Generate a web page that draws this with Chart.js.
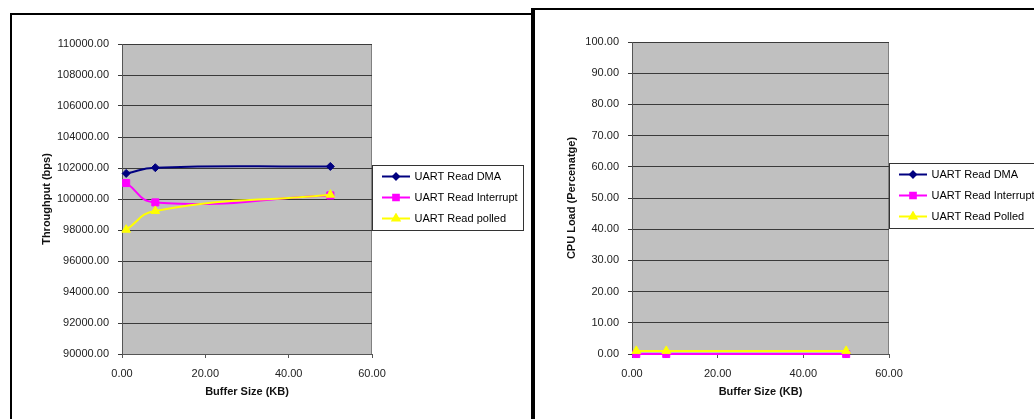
<!DOCTYPE html>
<html>
<head>
<meta charset="utf-8">
<title>UART Read throughput and CPU load</title>
<script src="https://cdn.jsdelivr.net/npm/chart.js@4.4.1/dist/chart.umd.min.js"></script>
<style>
  body { margin: 0; background: #fff; width: 1034px; height: 419px; overflow: hidden; position: relative; }
  .panel { position: absolute; border: 2px solid #000; box-sizing: border-box; }
  #panelLeft { left: 10px; top: 13px; width: 523px; height: 440px; }
  #panelRight { left: 531px; top: 8px; width: 540px; height: 440px; border-left-width: 4px; }
  canvas { position: absolute; top: 0; }
  #throughputChart { left: 0; }
  #loadChart { left: 535px; }
</style>
</head>
<body>
<div class="panel" id="panelLeft"></div>
<div class="panel" id="panelRight"></div>
<canvas id="throughputChart" width="533" height="419"></canvas>
<canvas id="loadChart" width="499" height="419"></canvas>
<script>
// buffer sizes in KB
const bufferSizes = [1, 8, 50];

// throughput in bps
const dmaThroughput = [101650, 102020, 102100];
const interruptThroughput = [101030, 99780, 100230];
const polledThroughput = [98020, 99230, 100280];

// CPU load in percent
const dmaLoad = [0, 0, 0];
const interruptLoad = [0, 0, 0];
const polledLoad = [1, 1, 1];

Chart.defaults.font.family = '"Liberation Sans", Arial, sans-serif';
Chart.defaults.font.size = 11;
Chart.defaults.animation = false;

const GRID = '#3a3a3a';

function pairs(xs, ys) {
  return xs.map((x, i) => ({ x: x, y: ys[i] }));
}

// small line + marker picture used as the legend symbol
function legendSwatch(ds) {
  const c = document.createElement('canvas');
  c.width = 28;
  c.height = 11;
  const g = c.getContext('2d');
  g.strokeStyle = ds.borderColor;
  g.lineWidth = ds.borderWidth;
  g.beginPath();
  g.moveTo(0, 5.5);
  g.lineTo(28, 5.5);
  g.stroke();
  g.fillStyle = ds.backgroundColor;
  g.strokeStyle = ds.borderColor;
  Chart.helpers.drawPoint(g, { pointStyle: ds.pointStyle, radius: ds.pointRadius - 1, borderWidth: 1, rotation: 0 }, 14, 5.5);
  return c;
}

// grey plot area, its frame, and the framed legend to the right of it
const plotFrame = {
  id: 'plotFrame',
  afterLayout(chart, args, opts) {
    const lg = chart.legend;
    const a = chart.chartArea;
    lg.left = a.right + 1;
    lg.right = lg.left + opts.legendWidth;
    lg.width = opts.legendWidth;
    lg.top = opts.legendTop - 4;
    lg.bottom = lg.top + 200;
    lg.height = 200;
  },
  beforeDraw(chart, args, opts) {
    const { ctx, chartArea: a } = chart;
    ctx.save();
    ctx.fillStyle = '#c0c0c0';
    ctx.fillRect(a.left, a.top, a.width, a.height);
    ctx.strokeStyle = '#808080';
    ctx.lineWidth = 1;
    ctx.strokeRect(Math.round(a.left) + 0.5, Math.round(a.top) + 0.5, Math.round(a.width) - 1, Math.round(a.height));
    const lx = Math.round(a.right) + 0.5;
    ctx.fillStyle = '#fff';
    ctx.fillRect(lx, opts.legendTop + 0.5, opts.legendWidth, opts.legendHeight);
    ctx.strokeStyle = '#333';
    ctx.strokeRect(lx, opts.legendTop + 0.5, opts.legendWidth, opts.legendHeight);
    ctx.restore();
  }
};

function series(label, data, color, style, radius, order) {
  return {
    label: label,
    data: data,
    borderColor: color,
    backgroundColor: color,
    borderWidth: 2,
    pointStyle: style,
    pointRadius: radius,
    pointBorderWidth: 1,
    tension: 0.5,
    clip: false,
    order: order
  };
}

function buildChart(canvasId, datasets, y, frame, padding, yWidth) {
  return new Chart(document.getElementById(canvasId), {
    type: 'line',
    data: { datasets: datasets },
    options: {
      responsive: false,
      devicePixelRatio: 1,
      layout: { padding: padding },
      plugins: {
        tooltip: { enabled: false },
        plotFrame: frame,
        legend: {
          position: 'chartArea',
          align: 'start',
          labels: {
            usePointStyle: true,
            pointStyleWidth: 26,
            padding: 10,
            color: '#000',
            font: { size: 11 },
            generateLabels: ch => ch.data.datasets.map((ds, i) => ({
              text: ds.label,
              pointStyle: legendSwatch(ds),
              fillStyle: ds.backgroundColor,
              strokeStyle: ds.borderColor,
              lineWidth: 0,
              fontColor: '#000',
              hidden: false,
              datasetIndex: i
            }))
          }
        }
      },
      scales: {
        x: {
          type: 'linear',
          min: 0,
          max: 60,
          ticks: { stepSize: 20, color: '#222', padding: 9, maxRotation: 0, callback: v => v.toFixed(2) },
          grid: { drawOnChartArea: false, tickLength: 4, tickColor: '#555' },
          border: { color: '#555' },
          title: { display: true, text: 'Buffer Size (KB)', color: '#111', font: { size: 11, weight: 'bold' }, padding: { top: 0, bottom: 5 } },
          afterFit: s => { s.height = 50; }
        },
        y: {
          min: y.min,
          max: y.max,
          ticks: { stepSize: y.step, color: '#222', padding: 9, callback: v => v.toFixed(2) },
          grid: { color: GRID, tickLength: 4, tickColor: GRID },
          border: { color: '#555' },
          title: { display: true, text: y.title, color: '#111', font: { size: 11, weight: 'bold' }, padding: { top: 10, bottom: 0 } },
          afterFit: s => { s.width = yWidth; }
        }
      }
    },
    plugins: [plotFrame]
  });
}

buildChart('throughputChart', [
  series('UART Read DMA', pairs(bufferSizes, dmaThroughput), '#000080', 'rectRot', 4, 3),
  series('UART Read Interrupt', pairs(bufferSizes, interruptThroughput), '#ff00ff', 'rect', 5, 2),
  series('UART Read polled', pairs(bufferSizes, polledThroughput), '#ffff00', 'triangle', 5, 1)
], { min: 90000, max: 110000, step: 2000, title: 'Throughput (bps)' },
  { legendTop: 165, legendWidth: 151, legendHeight: 65 },
  { left: 30, top: 44, right: 161, bottom: 15 }, 92);

buildChart('loadChart', [
  series('UART Read DMA', pairs(bufferSizes, dmaLoad), '#000080', 'rectRot', 4, 3),
  series('UART Read Interrupt', pairs(bufferSizes, interruptLoad), '#ff00ff', 'rect', 5, 2),
  series('UART Read Polled', pairs(bufferSizes, polledLoad), '#ffff00', 'triangle', 5, 1)
], { min: 0, max: 100, step: 10, title: 'CPU Load (Percenatge)' },
  { legendTop: 163, legendWidth: 200, legendHeight: 65 },
  { left: 20, top: 42, right: 145, bottom: 15 }, 77);
</script>
</body>
</html>
